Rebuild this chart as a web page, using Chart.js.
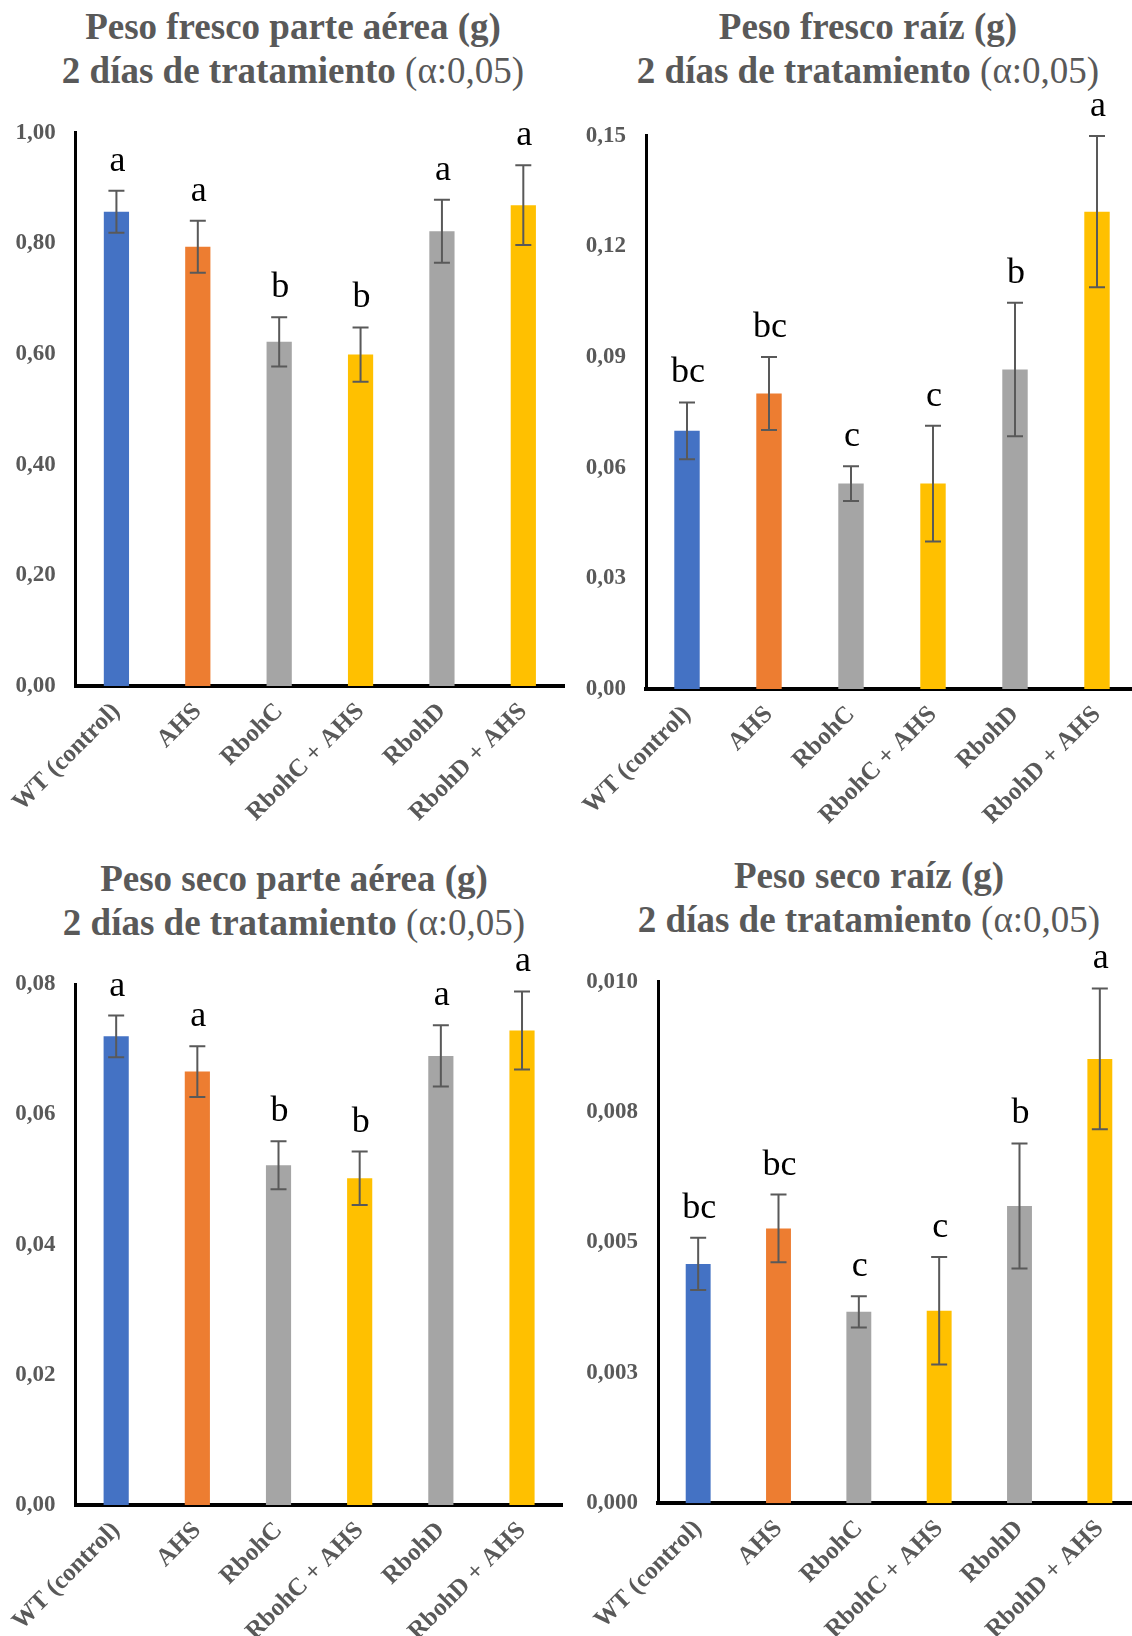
<!DOCTYPE html>
<html>
<head>
<meta charset="utf-8">
<script src="https://cdn.jsdelivr.net/npm/chart.js@4/dist/chart.umd.min.js"></script>
<style>
  html, body { margin: 0; padding: 0; background: #ffffff; overflow: hidden; }
  body { width: 1132px; height: 1636px; position: relative; }
  canvas { position: absolute; }
  .ttl { position: absolute; width: 560px; text-align: center; color: #595959;
         font-family: "Liberation Serif", "Times New Roman", serif; font-size: 37px;
         line-height: 44px; white-space: nowrap; }
  .ttl b { font-weight: bold; }
  .ttl span { font-weight: normal; }
</style>
</head>
<body>
<div class="ttl" id="t1" style="left:13px; top:5px;"><b>Peso fresco parte aérea (g)</b><br><b>2 días de tratamiento</b> <span>(α:0,05)</span></div>
<div class="ttl" id="t2" style="left:588px; top:5px;"><b>Peso fresco raíz (g)</b><br><b>2 días de tratamiento</b> <span>(α:0,05)</span></div>
<div class="ttl" id="t3" style="left:14px; top:857px;"><b>Peso seco parte aérea (g)</b><br><b>2 días de tratamiento</b> <span>(α:0,05)</span></div>
<div class="ttl" id="t4" style="left:589px; top:854px;"><b>Peso seco raíz (g)</b><br><b>2 días de tratamiento</b> <span>(α:0,05)</span></div>

<canvas id="c1" width="566" height="750" style="left:0px; top:90px;"></canvas>
<canvas id="c2" width="574" height="750" style="left:566px; top:90px;"></canvas>
<canvas id="c3" width="566" height="696" style="left:0px; top:940px;"></canvas>
<canvas id="c4" width="576" height="696" style="left:566px; top:940px;"></canvas>

<script>
// ---------- data ----------
const categories = ['WT (control)', 'AHS', 'RbohC', 'RbohC + AHS', 'RbohD', 'RbohD + AHS'];
const barColors = ['#4472C4', '#ED7D31', '#A5A5A5', '#FFC000', '#A5A5A5', '#FFC000'];

// Peso fresco parte aérea (g)
const fwShootValues = [0.857, 0.794, 0.622, 0.599, 0.822, 0.869];
const fwShootErrors = [0.038, 0.047, 0.0445, 0.049, 0.057, 0.072];
const fwShootLetters = ['a', 'a', 'b', 'b', 'a', 'a'];
const fwShootTickValues = [0, 0.2, 0.4, 0.6, 0.8, 1.0];
const fwShootTickLabels = ['0,00', '0,20', '0,40', '0,60', '0,80', '1,00'];

// Peso fresco raíz (g)
const fwRootValues = [0.0700, 0.0801, 0.0557, 0.0557, 0.0866, 0.1294];
const fwRootErrors = [0.0077, 0.0099, 0.0047, 0.0157, 0.0181, 0.0205];
const fwRootLetters = ['bc', 'bc', 'c', 'c', 'b', 'a'];
const fwRootTickValues = [0, 0.03, 0.06, 0.09, 0.12, 0.15];
const fwRootTickLabels = ['0,00', '0,03', '0,06', '0,09', '0,12', '0,15'];

// Peso seco parte aérea (g)
const dwShootValues = [0.0720, 0.0666, 0.0522, 0.0502, 0.0690, 0.0729];
const dwShootErrors = [0.0032, 0.0039, 0.0037, 0.0041, 0.0047, 0.0060];
const dwShootLetters = ['a', 'a', 'b', 'b', 'a', 'a'];
const dwShootTickValues = [0, 0.02, 0.04, 0.06, 0.08];
const dwShootTickLabels = ['0,00', '0,02', '0,04', '0,06', '0,08'];

// Peso seco raíz (g)
const dwRootValues = [0.00459, 0.00527, 0.00367, 0.00369, 0.00570, 0.00852];
const dwRootErrors = [0.00050, 0.00065, 0.00030, 0.00103, 0.00120, 0.00135];
const dwRootLetters = ['bc', 'bc', 'c', 'c', 'b', 'a'];
const dwRootTickValues = [0, 0.0025, 0.005, 0.0075, 0.01];
const dwRootTickLabels = ['0,000', '0,003', '0,005', '0,008', '0,010'];

// ---------- drawing ----------
const serif = '"Liberation Serif", "Times New Roman", serif';
const GREY = '#595959';

const errorAndLetters = {
  id: 'errorAndLetters',
  afterDatasetsDraw(chart, args, opts) {
    const ctx = chart.ctx;
    const meta = chart.getDatasetMeta(0);
    const y = chart.scales.y;
    ctx.save();
    meta.data.forEach((bar, i) => {
      const v = opts.values[i], e = opts.errors[i];
      const x = bar.x;
      const yTop = y.getPixelForValue(v + e);
      const yBot = y.getPixelForValue(v - e);
      ctx.strokeStyle = GREY;
      ctx.lineWidth = 2;
      ctx.beginPath();
      ctx.moveTo(x, yTop); ctx.lineTo(x, yBot);
      ctx.moveTo(x - 8, yTop); ctx.lineTo(x + 8, yTop);
      ctx.moveTo(x - 8, yBot); ctx.lineTo(x + 8, yBot);
      ctx.stroke();
      ctx.fillStyle = '#000000';
      ctx.font = '36px ' + serif;
      ctx.textAlign = 'center';
      ctx.textBaseline = 'alphabetic';
      ctx.fillText(opts.letters[i], x + 1, yTop - 20);
    });
    ctx.restore();
  }
};

function makeChart(id, values, errors, letters, tickValues, tickLabels, layout) {
  const yMax = tickValues[tickValues.length - 1];
  return new Chart(document.getElementById(id), {
    type: 'bar',
    data: {
      labels: categories,
      datasets: [{
        data: values,
        backgroundColor: barColors,
        borderWidth: 0,
        barPercentage: 0.31,
        categoryPercentage: 1.0
      }]
    },
    options: {
      responsive: false,
      devicePixelRatio: 1,
      animation: false,
      events: [],
      layout: { padding: { top: layout.top, right: layout.right, left: 0, bottom: 0 } },
      plugins: {
        legend: { display: false },
        tooltip: { enabled: false },
        title: { display: false },
        errorAndLetters: { values, errors, letters }
      },
      scales: {
        x: {
          grid: { display: false, drawTicks: false },
          border: { display: true, color: '#000000', width: 4 },
          afterFit: (s) => { s.height = layout.xh; },
          ticks: {
            autoSkip: false,
            minRotation: 45,
            maxRotation: 45,
            padding: 11,
            color: GREY,
            font: { family: serif, size: 25, weight: 'bold' }
          }
        },
        y: {
          min: 0,
          max: yMax,
          grid: { display: false, drawTicks: false },
          border: { display: true, color: '#000000', width: 3 },
          afterFit: (s) => { s.width = layout.yw; },
          afterBuildTicks: (s) => { s.ticks = tickValues.map(v => ({ value: v })); },
          ticks: {
            padding: 20,
            color: GREY,
            font: { family: serif, size: 23, weight: 'bold' },
            callback: (value, index) => tickLabels[index]
          }
        }
      }
    },
    plugins: [errorAndLetters]
  });
}

makeChart('c1', fwShootValues, fwShootErrors, fwShootLetters, fwShootTickValues, fwShootTickLabels,
  { top: 42.7, right: 2, yw: 73, xh: 154 });
makeChart('c2', fwRootValues, fwRootErrors, fwRootLetters, fwRootTickValues, fwRootTickLabels,
  { top: 45.7, right: 2, yw: 80, xh: 151 });
makeChart('c3', dwShootValues, dwShootErrors, dwShootLetters, dwShootTickValues, dwShootTickLabels,
  { top: 44.3, right: 3.4, yw: 70, xh: 131 });
makeChart('c4', dwRootValues, dwRootErrors, dwRootLetters, dwRootTickValues, dwRootTickLabels,
  { top: 41.7, right: 2, yw: 92, xh: 132.7 });
</script>
</body>
</html>
